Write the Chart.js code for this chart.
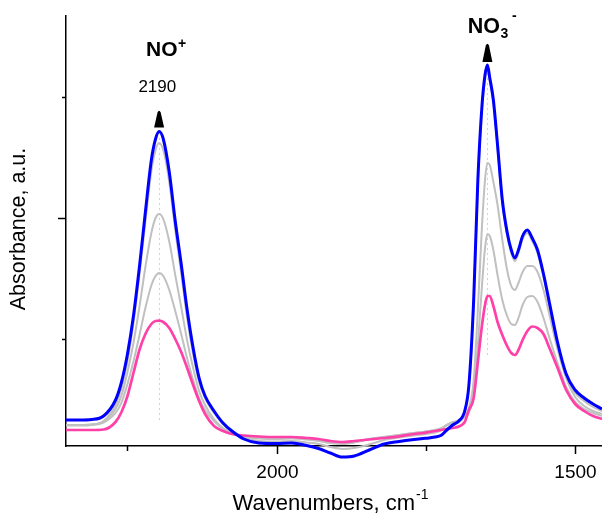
<!DOCTYPE html>
<html><head><meta charset="utf-8">
<script src="https://cdn.jsdelivr.net/npm/chart.js@4.4.1/dist/chart.umd.min.js"></script>
<style>html,body{margin:0;padding:0;background:#fff;}#wrap{width:602px;height:517px;position:relative;}</style>
</head><body><div id="wrap"><canvas id="c" width="602" height="517"></canvas></div>
<script>
// ---- data (wavenumbers in cm-1, absorbance in arbitrary units) ----
const wavenumbers = [2353,2330,2310,2290,2270,2260,2250,2240,2230,2220,2210,2203,2197,2190,2180,2170,2160,2150,2140,2130,2120,2105,2090,2075,2055,2030,2000,1975,1950,1930,1910,1890,1870,1845,1820,1795,1770,1755,1745,1735,1725,1715,1705,1695,1685,1678,1670,1663,1656,1651,1647,1643,1637,1630,1622,1614,1607,1601,1595,1588,1580,1572,1563,1553,1543,1530,1515,1500,1485,1470,1455];
const blueSeries = [0.26,0.26,0.265,0.30,0.46,0.64,0.92,1.30,1.79,2.34,2.86,3.07,3.145,3.07,2.74,2.25,1.82,1.36,0.98,0.68,0.50,0.35,0.23,0.15,0.07,0.03,0.025,0.03,0.005,-0.025,-0.07,-0.11,-0.10,-0.04,0.02,0.045,0.065,0.075,0.08,0.09,0.105,0.16,0.21,0.25,0.35,0.61,1.46,2.66,3.41,3.71,3.81,3.68,3.46,3.01,2.46,2.14,1.96,1.88,1.96,2.10,2.16,2.08,1.96,1.72,1.43,1.05,0.72,0.56,0.48,0.42,0.37];
const grayTopSeries = [0.21,0.21,0.215,0.25,0.41,0.58,0.85,1.23,1.71,2.24,2.75,2.96,3.03,2.96,2.64,2.16,1.73,1.28,0.92,0.64,0.48,0.33,0.22,0.14,0.08,0.05,0.045,0.05,0.035,0.02,-0.01,-0.03,-0.02,0.015,0.06,0.085,0.105,0.115,0.125,0.135,0.155,0.21,0.24,0.26,0.34,0.59,1.43,2.62,3.36,3.67,3.78,3.65,3.43,2.98,2.43,2.11,1.93,1.85,1.93,2.07,2.13,2.05,1.93,1.69,1.40,1.02,0.69,0.53,0.45,0.39,0.35];
const grayMidSeries = [0.21,0.21,0.215,0.244,0.37,0.505,0.74,1.03,1.39,1.79,2.13,2.28,2.32,2.27,2.045,1.71,1.39,1.054,0.78,0.55,0.41,0.27,0.18,0.13,0.095,0.08,0.075,0.08,0.07,0.055,0.035,0.025,0.04,0.07,0.09,0.11,0.13,0.14,0.15,0.155,0.17,0.21,0.23,0.245,0.31,0.38,0.66,1.36,2.21,2.66,2.83,2.81,2.64,2.41,2.06,1.76,1.60,1.56,1.63,1.74,1.80,1.80,1.74,1.56,1.31,0.98,0.68,0.49,0.40,0.35,0.32];
const grayLowSeries = [0.205,0.205,0.21,0.235,0.33,0.434,0.62,0.845,1.105,1.38,1.608,1.70,1.73,1.70,1.56,1.35,1.12,0.876,0.66,0.48,0.36,0.25,0.17,0.125,0.09,0.075,0.07,0.075,0.065,0.05,0.03,0.02,0.035,0.07,0.09,0.11,0.13,0.14,0.15,0.16,0.175,0.21,0.22,0.235,0.29,0.34,0.51,1.01,1.61,1.98,2.12,2.10,1.96,1.71,1.46,1.30,1.22,1.21,1.28,1.41,1.49,1.50,1.44,1.28,1.08,0.84,0.59,0.44,0.37,0.33,0.30];
const pinkSeries = [0.16,0.16,0.16,0.165,0.24,0.34,0.50,0.73,0.96,1.12,1.22,1.25,1.253,1.24,1.18,1.07,0.94,0.78,0.61,0.45,0.32,0.20,0.15,0.12,0.105,0.095,0.09,0.09,0.08,0.07,0.05,0.04,0.05,0.065,0.08,0.097,0.12,0.13,0.14,0.15,0.16,0.17,0.18,0.195,0.24,0.36,0.48,0.84,1.21,1.41,1.50,1.50,1.40,1.24,1.11,1.00,0.93,0.91,0.96,1.06,1.15,1.195,1.18,1.12,0.98,0.79,0.56,0.42,0.35,0.30,0.27];

const xTicks = [2250, 2000, 1750, 1500];
const xTickLabels = ['', '2000', '', '1500'];
const yTicks = [1.07, 2.28, 3.49];
const yTickMajor = [false, true, false];
const xRange = [1455, 2353];
const yRange = [0, 4.30];

// band annotations (wavenumber of the band, guide line span in a.u.)
const bandNO = {w: 2197, label: '2190', guideFrom: 0.26, guideTo: 3.08};
const bandNO3 = {w: 1647, guideFrom: 0.91, guideTo: 3.76};

const FONT = '"Liberation Sans", Arial, Helvetica, sans-serif';

const decor = {
  id: 'decor',
  beforeDatasetsDraw(chart) {
    const {ctx, scales: {x, y}} = chart;
    ctx.save();
    ctx.strokeStyle = '#d2d2d2';
    ctx.lineWidth = 1;
    ctx.setLineDash([2, 3]);
    [bandNO, bandNO3].forEach(b => {
      const px = Math.round(x.getPixelForValue(b.w)) + 0.5;
      ctx.beginPath();
      ctx.moveTo(px, y.getPixelForValue(b.guideFrom));
      ctx.lineTo(px, y.getPixelForValue(b.guideTo));
      ctx.stroke();
    });
    ctx.restore();
  },
  afterDraw(chart) {
    const {ctx, chartArea: ca, scales: {x, y}} = chart;
    ctx.save();
    ctx.strokeStyle = '#000';
    ctx.fillStyle = '#000';
    ctx.lineWidth = 1.5;
    ctx.setLineDash([]);
    // y ticks
    yTicks.forEach((v, i) => {
      const py = Math.round(y.getPixelForValue(v)) + 0.5;
      const len = yTickMajor[i] ? 8 : 4;
      ctx.beginPath(); ctx.moveTo(ca.left - len, py); ctx.lineTo(ca.left, py); ctx.stroke();
    });
    // x ticks + labels
    ctx.font = '19px ' + FONT;
    ctx.textAlign = 'center';
    ctx.textBaseline = 'alphabetic';
    xTicks.forEach((v, i) => {
      const px = Math.round(x.getPixelForValue(v)) + 0.5;
      const len = xTickLabels[i] ? 8 : 5;
      ctx.beginPath(); ctx.moveTo(px, ca.bottom); ctx.lineTo(px, ca.bottom + len); ctx.stroke();
      if (xTickLabels[i]) ctx.fillText(xTickLabels[i], px, ca.bottom + 32);
    });
    // x title with superscript
    const t1 = 'Wavenumbers, cm', t2 = '-1';
    ctx.font = '22px ' + FONT;
    const w1 = ctx.measureText(t1).width;
    ctx.font = '14px ' + FONT;
    const w2 = ctx.measureText(t2).width;
    const cx = (ca.left + ca.right) / 2 - 4;
    const sx = cx - (w1 + w2) / 2;
    ctx.textAlign = 'left';
    ctx.font = '22px ' + FONT;
    ctx.fillText(t1, sx, 510);
    ctx.font = '14px ' + FONT;
    ctx.fillText(t2, sx + w1 + 1, 499);
    // y title
    ctx.save();
    ctx.translate(19, 229);
    ctx.rotate(-Math.PI / 2);
    ctx.font = '21.5px ' + FONT;
    ctx.textAlign = 'center';
    ctx.textBaseline = 'middle';
    ctx.fillText('Absorbance, a.u.', 0, 0);
    ctx.restore();
    // arrows
    const arrow = (w, tipV, baseV) => {
      const px = x.getPixelForValue(w);
      const tip = y.getPixelForValue(tipV), base = y.getPixelForValue(baseV);
      ctx.beginPath();
      ctx.moveTo(px - 5, base);
      ctx.lineTo(px - 1.6, tip + 2.5);
      ctx.quadraticCurveTo(px, tip - 1, px + 1.6, tip + 2.5);
      ctx.lineTo(px + 5, base);
      ctx.closePath();
      ctx.fill();
    };
    arrow(bandNO.w, 3.36, 3.185);
    arrow(bandNO3.w, 4.03, 3.84);
    // NO+ label
    ctx.textAlign = 'left';
    ctx.textBaseline = 'alphabetic';
    let px = x.getPixelForValue(2219), py = y.getPixelForValue(3.90);
    ctx.font = 'bold 21px ' + FONT;
    ctx.fillText('NO', px, py);
    let wNO = ctx.measureText('NO').width;
    ctx.font = 'bold 14px ' + FONT;
    ctx.fillText('+', px + wNO + 0.5, py - 8);
    // wavenumber label
    ctx.font = '17px ' + FONT;
    ctx.textAlign = 'center';
    ctx.fillText(bandNO.label, x.getPixelForValue(2200), y.getPixelForValue(3.54));
    // NO3- label
    ctx.textAlign = 'left';
    px = x.getPixelForValue(1680); py = y.getPixelForValue(4.135);
    ctx.font = 'bold 21.5px ' + FONT;
    ctx.fillText('NO', px, py);
    wNO = ctx.measureText('NO').width;
    ctx.font = 'bold 14px ' + FONT;
    ctx.fillText('3', px + wNO + 0.5, py + 5);
    ctx.fillText('-', px + wNO + 12, py - 13);
    ctx.restore();
  }
};

const mk = (arr) => wavenumbers.map((w, i) => ({x: w, y: arr[i]}));
const ds = (label, arr, color, width, order) => ({
  label, data: mk(arr), borderColor: color, borderWidth: width, pointRadius: 0,
  fill: false, cubicInterpolationMode: 'monotone', order,
  clip: {left: 0, right: 0, top: false, bottom: false}
});

new Chart(document.getElementById('c'), {
  type: 'line',
  data: {
    datasets: [
      ds('blue', blueSeries, '#0000ff', 3, 0),
      ds('pink', pinkSeries, '#ff40a8', 2.7, 1),
      ds('grayTop', grayTopSeries, '#c0c0c0', 2, 2),
      ds('grayMid', grayMidSeries, '#c0c0c0', 2, 2),
      ds('grayLow', grayLowSeries, '#c0c0c0', 2, 2)
    ]
  },
  options: {
    responsive: false,
    animation: false,
    devicePixelRatio: 1,
    layout: {padding: {top: 16, right: 0, left: 0, bottom: 0}},
    plugins: {legend: {display: false}, tooltip: {enabled: false}},
    scales: {
      x: {
        type: 'linear', reverse: true, min: xRange[0], max: xRange[1],
        grid: {display: false},
        ticks: {display: false},
        border: {display: true, color: '#000', width: 1.5},
        afterFit: s => { s.height = 71; }
      },
      y: {
        type: 'linear', min: yRange[0], max: yRange[1],
        grid: {display: false},
        ticks: {display: false},
        border: {display: true, color: '#000', width: 1.5},
        afterFit: s => { s.width = 66; }
      }
    }
  },
  plugins: [decor]
});
</script>
</body></html>
